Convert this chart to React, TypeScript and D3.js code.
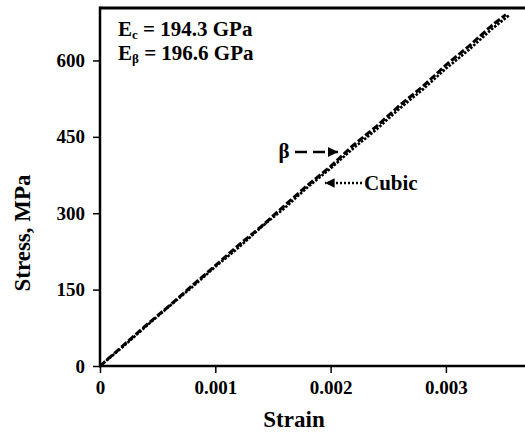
import React, { useEffect, useRef } from "react";
import * as d3 from "d3";

// strain (mm/mm) vs stress (MPa)
const strainBeta = [0, 0.0002, 0.0004, 0.0006, 0.0008, 0.001, 0.0012, 0.0014, 0.0016, 0.0018, 0.002, 0.0022, 0.0024, 0.0026, 0.0028, 0.003, 0.0032, 0.0034, 0.00352];
const stressBeta = [0, 40, 80, 118, 158, 197, 237, 274, 315, 355, 392, 434, 471, 512, 549, 591, 628, 669, 690];
const strainCubic = [0, 0.0002, 0.0004, 0.0006, 0.0008, 0.001, 0.0012, 0.0014, 0.0016, 0.0018, 0.002, 0.0022, 0.0024, 0.0026, 0.0028, 0.003, 0.0032, 0.0034, 0.00355];
const stressCubic = [0, 38, 78, 117, 155, 195, 232, 273, 310, 351, 388, 428, 465, 506, 543, 584, 621, 662, 689];

const xTicks = [0, 0.001, 0.002, 0.003];
const xTickLabels = ["0", "0.001", "0.002", "0.003"];
const yTicks = [0, 150, 300, 450, 600];

const FONT = "Liberation Serif, DejaVu Serif, serif";

const App = () => {
  const svgRef = useRef<SVGSVGElement>(null);

  useEffect(() => {
    const svg = d3.select(svgRef.current);
    svg.selectAll("*").remove();

    const width = 525;
    const left = 100;
    const top = 8;
    const bottom = 366;

    const x = d3.scaleLinear().domain([0, 0.003686]).range([left, width]);
    const y = d3.scaleLinear().domain([0, 703]).range([bottom, top]);

    const beta = strainBeta.map((s, i) => [s, stressBeta[i]] as [number, number]);
    const cubic = strainCubic.map((s, i) => [s, stressCubic[i]] as [number, number]);

    const line = d3
      .line<[number, number]>()
      .x((d) => x(d[0]))
      .y((d) => y(d[1]));

    svg
      .append("path")
      .datum(cubic)
      .attr("fill", "none")
      .attr("stroke", "#000")
      .attr("stroke-width", 2.6)
      .attr("stroke-dasharray", "2.5,1.5")
      .attr("d", line);

    svg
      .append("path")
      .datum(beta)
      .attr("fill", "none")
      .attr("stroke", "#000")
      .attr("stroke-width", 3)
      .attr("stroke-dasharray", "7,2.5")
      .attr("d", line);

    // axes
    const xAxis = svg
      .append("g")
      .attr("transform", `translate(0, ${bottom})`)
      .call(
        d3
          .axisBottom(x)
          .tickValues(xTicks)
          .tickSize(7)
          .tickPadding(8)
          .tickFormat((d, i) => xTickLabels[i])
      );
    xAxis.select(".domain").remove();
    xAxis.selectAll("line").attr("stroke", "#000").attr("stroke-width", 1.5);

    const yAxis = svg
      .append("g")
      .attr("transform", `translate(${left}, 0)`)
      .call(d3.axisLeft(y).tickValues(yTicks).tickSize(7).tickPadding(8));
    yAxis.select(".domain").remove();
    yAxis.selectAll("line").attr("stroke", "#000").attr("stroke-width", 1.5);

    svg.selectAll("g text").attr("fill", "#000").attr("font-size", null).style("font-size", "19px");

    // frame
    svg.append("line").attr("x1", left).attr("x2", left).attr("y1", top - 1.5).attr("y2", bottom + 1.5)
      .attr("stroke", "#000").attr("stroke-width", 2.5);
    svg.append("line").attr("x1", left).attr("x2", width).attr("y1", top).attr("y2", top)
      .attr("stroke", "#000").attr("stroke-width", 3);
    svg.append("line").attr("x1", left).attr("x2", width).attr("y1", bottom).attr("y2", bottom)
      .attr("stroke", "#000").attr("stroke-width", 2.5);

    // axis titles
    svg
      .append("text")
      .attr("x", 294)
      .attr("y", 427)
      .attr("text-anchor", "middle")
      .style("font-size", "23px")
      .text("Strain");

    svg
      .append("text")
      .attr("transform", `translate(30, ${(top + bottom) / 2 + 46}) rotate(-90)`)
      .attr("text-anchor", "middle")
      .style("font-size", "23px")
      .text("Stress, MPa");

    // moduli
    const mod = [
      { sub: "c", val: " = 194.3 GPa", yy: 36 },
      { sub: "β", val: " = 196.6 GPa", yy: 60 },
    ];
    mod.forEach((m) => {
      const t = svg.append("text").attr("x", 118).attr("y", m.yy).style("font-size", "21px");
      t.append("tspan").text("E");
      t.append("tspan").style("font-size", "13px").attr("dy", 3).text(m.sub);
      t.append("tspan").attr("dy", -3).text(m.val);
    });

    // arrow heads
    const defs = svg.append("defs");
    defs
      .append("marker")
      .attr("id", "ah")
      .attr("viewBox", "0 0 10 10")
      .attr("refX", 10)
      .attr("refY", 5)
      .attr("markerWidth", 4.5)
      .attr("markerHeight", 4)
      .attr("markerUnits", "strokeWidth")
      .attr("orient", "auto")
      .append("path")
      .attr("d", "M0,0 L10,5 L0,10 Z")
      .attr("fill", "#000");

    svg
      .append("text")
      .attr("x", 284)
      .attr("y", 158)
      .attr("text-anchor", "middle")
      .style("font-size", "21px")
      .text("β");
    svg
      .append("line")
      .attr("x1", 295)
      .attr("x2", 338)
      .attr("y1", 152)
      .attr("y2", 152)
      .attr("stroke", "#000")
      .attr("stroke-width", 2.5)
      .attr("stroke-dasharray", "12,6")
      .attr("marker-end", "url(#ah)");

    svg
      .append("line")
      .attr("x1", 362)
      .attr("x2", 325)
      .attr("y1", 183)
      .attr("y2", 183)
      .attr("stroke", "#000")
      .attr("stroke-width", 2.4)
      .attr("stroke-dasharray", "2,2")
      .attr("marker-end", "url(#ah)");
    svg
      .append("text")
      .attr("x", 364)
      .attr("y", 190)
      .style("font-size", "21px")
      .text("Cubic");

    svg.selectAll("text").style("font-family", FONT).style("font-weight", "bold");
  }, []);

  return (
    <svg
      ref={svgRef}
      width="525"
      height="435"
      style={{ position: "absolute", left: 0, top: 0, background: "#fff" }}
    />
  );
};

export default App;
